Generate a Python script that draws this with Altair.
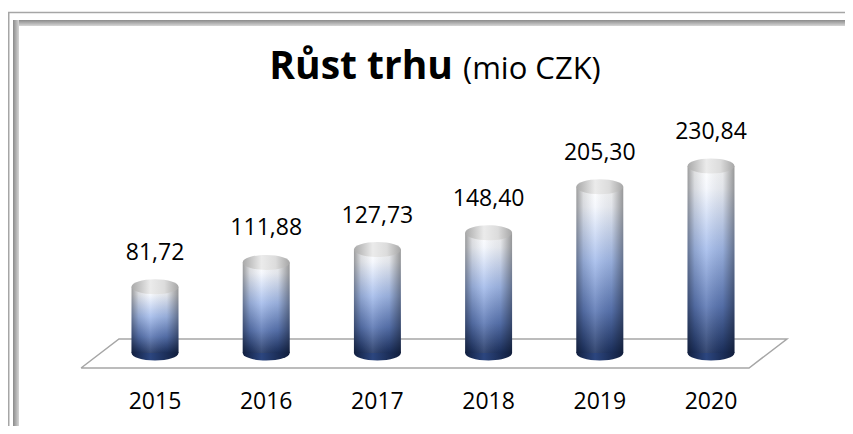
import altair as alt
import pandas as pd

# ---- data ----
years = ["2015", "2016", "2017", "2018", "2019", "2020"]
values = [81.72, 111.88, 127.73, 148.40, 205.30, 230.84]
value_labels = ["81,72", "111,88", "127,73", "148,40", "205,30", "230,84"]

# floor (3D base plate) corners in data units
floor_x = [-0.665, 5.342, 5.683, -0.324, -0.665]
floor_y = [-18.5, -18.5, 17.3, 17.3, -18.5]

W, H = 837, 418
HALF = 0.211           # half cylinder width in x units
FONT = "Open Sans"

df = pd.DataFrame({"idx": list(range(len(years))), "year": years,
                   "value": values, "label": value_labels})
df["xl"] = df["idx"] - HALF
df["xr"] = df["idx"] + HALF
df["zero"] = 0.0
floor = pd.DataFrame({"fx": floor_x, "fy": floor_y, "o": list(range(len(floor_x)))})
one = pd.DataFrame({"d": [0]})

xs = alt.Scale(domain=[-1.322, 6.205], nice=False, zero=False)
ys = alt.Scale(domain=[-90.12, 425.93], nice=False, zero=False)

ELLIPSE = ("M -1 0 C -1 -0.1767 -0.5523 -0.32 0 -0.32 C 0.5523 -0.32 1 -0.1767 1 0 "
           "C 1 0.1767 0.5523 0.32 0 0.32 C -0.5523 0.32 -1 0.1767 -1 0 Z")
SIZE = 2200


def grad(stops, horizontal=False):
    return alt.Gradient(
        gradient="linear",
        stops=[alt.GradientStop(color=c, offset=o) for o, c in stops],
        x1=0, y1=0, x2=1 if horizontal else 0, y2=0 if horizontal else 1,
    )


body_grad = grad([(0, "#ffffff"), (0.12, "#f4f7fd"), (0.45, "#a3bbeb"),
                  (0.75, "#5a76b3"), (1, "#1c3160")])
shade_grad = grad([(0, "rgba(0,0,0,0.38)"), (0.15, "rgba(0,0,0,0.12)"),
                   (0.4, "rgba(255,255,255,0.12)"), (0.75, "rgba(0,0,0,0.08)"),
                   (1, "rgba(0,0,0,0.40)")], horizontal=True)
cap_grad = grad([(0, "#a9a9a9"), (0.4, "#ebebeb"), (0.7, "#dcdcdc"), (1, "#a6a6a6")],
                horizontal=True)
bottom_grad = grad([(0, "#111f40"), (0.4, "#2c467f"), (1, "#101d3c")], horizontal=True)

# ---- frame ----
base1 = alt.Chart(one)
outer = base1.mark_rect(fillOpacity=0, stroke="#a6a6a6", strokeWidth=1.5).encode(
    x=alt.value(0.75), x2=alt.value(W + 20), y=alt.value(4.5), y2=alt.value(H + 20))
top_band = base1.mark_rect(fill=grad([(0, "#8a8a8a"), (1, "#d6d6d6")])).encode(
    x=alt.value(5), x2=alt.value(W + 20), y=alt.value(12), y2=alt.value(18))
left_band = base1.mark_rect(fill=grad([(0, "#8a8a8a"), (1, "#d6d6d6")], horizontal=True)).encode(
    x=alt.value(5), x2=alt.value(11), y=alt.value(12), y2=alt.value(H + 20))

# ---- floor ----
floor_line = alt.Chart(floor).mark_line(stroke="#a6a6a6", strokeWidth=1.5).encode(
    x=alt.X("fx:Q", scale=xs, axis=None),
    y=alt.Y("fy:Q", scale=ys, axis=None),
    order="o:Q",
)

base = alt.Chart(df)
bottom = base.mark_point(shape=ELLIPSE, size=SIZE, filled=True, fill=bottom_grad,
                         opacity=1, strokeWidth=0).encode(
    x=alt.X("idx:Q", scale=xs, axis=None),
    y=alt.Y("zero:Q", scale=ys, axis=None),
)
body = base.mark_bar(fill=body_grad, strokeWidth=0).encode(
    x=alt.X("xl:Q", scale=xs, axis=None), x2="xr:Q",
    y=alt.Y("value:Q", scale=ys, axis=None), y2="zero:Q",
)
shade = base.mark_bar(fill=shade_grad, strokeWidth=0).encode(
    x=alt.X("xl:Q", scale=xs, axis=None), x2="xr:Q",
    y=alt.Y("value:Q", scale=ys, axis=None), y2="zero:Q",
)
cap = base.mark_point(shape=ELLIPSE, size=SIZE, filled=True, fill=cap_grad,
                      opacity=1, strokeWidth=0).encode(
    x=alt.X("idx:Q", scale=xs, axis=None),
    y=alt.Y("value:Q", scale=ys, axis=None),
)
vlabels = base.mark_text(font=FONT, fontSize=23, color="#000000", baseline="middle",
                         dy=-34).encode(
    x=alt.X("idx:Q", scale=xs, axis=None),
    y=alt.Y("value:Q", scale=ys, axis=None),
    text="label:N",
)
ylabels = base.mark_text(font=FONT, fontSize=23, color="#000000", baseline="middle").encode(
    x=alt.X("idx:Q", scale=xs, axis=None),
    y=alt.value(394),
    text="year:N",
)

title_bold = alt.Chart(pd.DataFrame({"t": ["Růst trhu"]})).mark_text(
    font=FONT, fontSize=39, fontWeight="bold", align="right", baseline="alphabetic",
    color="#000000").encode(x=alt.value(445), y=alt.value(71), text="t:N")
title_reg = alt.Chart(pd.DataFrame({"t": ["(mio CZK)"]})).mark_text(
    font=FONT, fontSize=31, align="left", baseline="alphabetic",
    color="#000000").encode(x=alt.value(455), y=alt.value(71), text="t:N")

chart = alt.layer(
    outer, top_band, left_band, floor_line, bottom, body, shade, cap,
    vlabels, ylabels, title_bold, title_reg,
).properties(
    width=W, height=H, padding=0, autosize="none", background="white"
).configure_view(stroke=None)

chart.save("out.html", embed_options={"renderer": "svg", "actions": False})
